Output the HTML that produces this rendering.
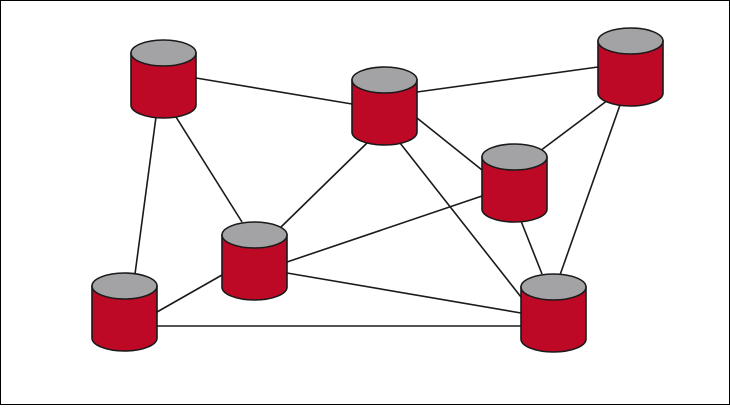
<!DOCTYPE html>
<html><head><meta charset="utf-8"><style>html,body{margin:0;padding:0;background:#fff}</style></head>
<body>
<svg width="730" height="405" viewBox="0 0 730 405" xmlns="http://www.w3.org/2000/svg">
<rect x="0.5" y="0.5" width="729" height="404" fill="#fff" stroke="#000" stroke-width="1"/>
<g stroke="#1a1a1a" stroke-width="1.6">
<line x1="196" y1="78" x2="352" y2="104"/>
<line x1="176" y1="117" x2="242" y2="222"/>
<line x1="156" y1="117" x2="135" y2="274"/>
<line x1="417" y1="92" x2="598" y2="67"/>
<line x1="367" y1="143" x2="280" y2="228"/>
<line x1="417" y1="118" x2="482" y2="170"/>
<line x1="400" y1="143" x2="521" y2="297"/>
<line x1="608" y1="100" x2="540" y2="151"/>
<line x1="620" y1="105" x2="560" y2="275"/>
<line x1="482" y1="196" x2="287" y2="262"/>
<line x1="521" y1="221" x2="542" y2="274"/>
<line x1="222" y1="275" x2="157" y2="312"/>
<line x1="287" y1="273" x2="521" y2="313"/>
<line x1="157" y1="326" x2="521" y2="326"/>
</g>
<defs>
<g id="cyl">
<path d="M0,13 L0,65 A32.5,13 0 0 0 65,65 L65,13 Z" fill="#bd0926" stroke="#1a1a1a" stroke-width="1.6"/>
<ellipse cx="32.5" cy="13" rx="32.5" ry="13" fill="#a3a3a5" stroke="#1a1a1a" stroke-width="1.6"/>
</g>
</defs>
<use href="#cyl" x="131" y="40"/>
<use href="#cyl" x="352" y="67"/>
<use href="#cyl" x="598" y="28"/>
<use href="#cyl" x="482" y="144"/>
<use href="#cyl" x="222" y="222"/>
<use href="#cyl" x="92" y="273"/>
<use href="#cyl" x="521" y="274"/>
</svg>
</body></html>
